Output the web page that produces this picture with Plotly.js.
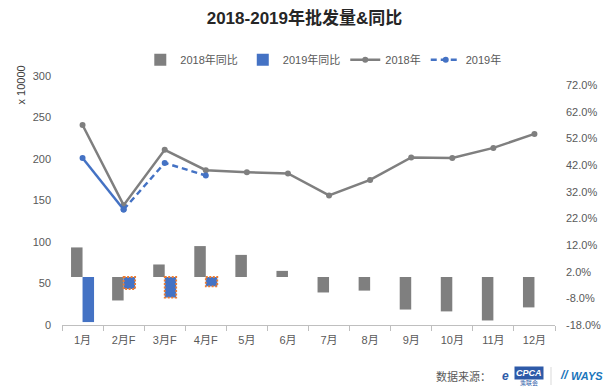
<!DOCTYPE html>
<html>
<head>
<meta charset="utf-8">
<script src="https://cdn.plot.ly/plotly-3.0.1.min.js"></script>
<style>html,body{margin:0;padding:0;background:#fff;}#chart{width:609px;height:391px;}</style>
</head>
<body>
<div id="chart"></div>
<script>
const months = ['1月','2月F','3月F','4月F','5月','6月','7月','8月','9月','10月','11月','12月'];
const sales2018 = [241.0,144.4,211.0,186.5,184.1,182.6,156.1,174.8,201.8,201.3,213.4,230.2];
const sales2019 = [201.3,139.2,195.3,180.1];
const yoy2018 = [11.1,-8.8,4.7,11.6,8.3,2.3,-5.8,-5.1,-12.2,-12.9,-16.3,-11.4];
const yoy2019 = [-16.9,-4.5,-7.7,-3.5];
const rightTicks = [-18,-8,2,12,22,32,42,52,62,72];

const FONT = 'Liberation Sans, Noto Sans CJK SC, sans-serif';
const GRAY = '#7f7f7f';
const BLUE = '#4472C4';
const ORANGE = '#ED7D31';

const x19 = months.slice(0, sales2019.length);
const firstF = months.findIndex(m => m.endsWith('F'));
const solidEnd = Math.max(firstF, 1);

const traces = [
  {type:'bar', name:'2018年同比', x:months, y:yoy2018, yaxis:'y2',
   marker:{color:GRAY, line:{width:0}}, hoverinfo:'none'},
  {type:'bar', name:'2019年同比', x:x19, y:yoy2019, yaxis:'y2',
   marker:{color:BLUE, line:{width:1.5, color:ORANGE}}, hoverinfo:'none'},
  {type:'scatter', mode:'lines+markers', name:'2018年', x:months, y:sales2018, yaxis:'y',
   line:{color:GRAY, width:2.5}, marker:{color:GRAY, size:6}, hoverinfo:'none'},
  {type:'scatter', mode:'lines+markers', name:'2019年', x:x19.slice(0, solidEnd+1), y:sales2019.slice(0, solidEnd+1), yaxis:'y',
   line:{color:BLUE, width:2.5}, marker:{color:BLUE, size:6}, showlegend:false, hoverinfo:'none'},
  {type:'scatter', mode:'lines+markers', name:'2019年', x:x19.slice(solidEnd), y:sales2019.slice(solidEnd), yaxis:'y',
   line:{color:BLUE, width:2.5, dash:'6px,4px'}, marker:{color:BLUE, size:6}, hoverinfo:'none'}
];
// per-point border: forecast points get a dashed orange outline (shape), others none
traces[1].marker.line.color = x19.map(m => m.endsWith('F') ? 'rgba(0,0,0,0)' : BLUE);
traces[1].marker.line.width = 0;

const barW = (1 - 0.44) / 2;
const shapes = [];
x19.forEach((m, i) => {
  if (m.endsWith('F')) {
    shapes.push({type:'rect', xref:'x', yref:'y2', x0:i, x1:i+barW, y0:0, y1:yoy2019[i],
      line:{color:ORANGE, width:1.8, dash:'2px,1.5px'}, fillcolor:'rgba(0,0,0,0)'});
  }
});

const layout = {
  width:609, height:391,
  margin:{l:62, r:54, t:76, b:66},
  paper_bgcolor:'#fff', plot_bgcolor:'#fff',
  font:{family:FONT, size:11, color:'#595959'},
  title:{text:'<b>2018-2019年批发量&同比</b>', font:{family:FONT, size:17, color:'#262626'}, x:0.5, xanchor:'center', y:0.955, yanchor:'middle'},
  showlegend:true,
  legend:{orientation:'h', x:0.53, xanchor:'center', y:1.065, yanchor:'middle', font:{size:11, color:'#595959'}, itemwidth:30, traceorder:'normal', tracegroupgap:0, bgcolor:'rgba(0,0,0,0)'},
  barmode:'group', bargap:0.44, bargroupgap:0,
  xaxis:{type:'category', categoryorder:'array', categoryarray:months, showline:true, linecolor:'#bfbfbf', linewidth:1,
    ticks:'outside', tickson:'boundaries', ticklen:5, tickcolor:'#bfbfbf', showgrid:false, zeroline:false,
    ticklabelstandoff:5, tickfont:{size:11, color:'#595959'}, range:[-0.5, 11.5]},
  yaxis:{range:[0,300], tickvals:[0,50,100,150,200,250,300], showgrid:false, zeroline:false, showline:false,
    ticks:'', ticklabelstandoff:10, tickfont:{size:11, color:'#595959'}},
  yaxis2:{overlaying:'y', side:'right', range:[-18, 75.4], tickvals:rightTicks, ticktext:rightTicks.map(v => v.toFixed(1)+'%'),
    showgrid:false, zeroline:false, showline:false, ticks:'', ticklabelstandoff:10, tickfont:{size:11, color:'#595959'}},
  shapes:shapes,
  annotations:[
    {text:'x 10000', xref:'paper', yref:'paper', x:0, y:1, xshift:-42, yshift:12, xanchor:'center', yanchor:'top', textangle:-90, showarrow:false, font:{size:11, color:'#404040'}},
    {text:'数据来源：', xref:'paper', yref:'paper', x:1, y:0, xshift:-62, yshift:-51, xanchor:'right', yanchor:'middle', showarrow:false, font:{size:11, color:'#595959'}},
    {text:'<b><i>CPCA</i></b>', xref:'paper', yref:'paper', x:1, y:0, xshift:-26, yshift:-48, xanchor:'center', yanchor:'middle', showarrow:false, bgcolor:'#2E5AA8', font:{size:9, color:'#fff'}, borderpad:1},
    {text:'乘联会', xref:'paper', yref:'paper', x:1, y:0, xshift:-26, yshift:-58, xanchor:'center', yanchor:'middle', showarrow:false, font:{size:6, color:'#2E5AA8'}},
    {text:'<b><i>e</i></b>', xref:'paper', yref:'paper', x:1, y:0, xshift:-50, yshift:-51, xanchor:'center', yanchor:'middle', showarrow:false, font:{size:12, color:'#2E5AA8'}},
    {text:'<b><i>//</i></b>', xref:'paper', yref:'paper', x:1, y:0, xshift:9, yshift:-50, xanchor:'center', yanchor:'middle', showarrow:false, font:{size:12, color:'#1B75BB'}},
    {text:'<b><i>WAYS</i></b>', xref:'paper', yref:'paper', x:1, y:0, xshift:32, yshift:-51, xanchor:'center', yanchor:'middle', showarrow:false, font:{size:11, color:'#1B75BB'}}
  ]
};
shapes.push({type:'line', xref:'paper', yref:'paper', x0:1, x1:1, y0:0, y1:0, xsizemode:'pixel', ysizemode:'pixel', xanchor:1, yanchor:0, line:{color:'#d9d9d9', width:1}});
// separator between logos
shapes[shapes.length-1] = {type:'line', xref:'paper', yref:'paper', xsizemode:'pixel', ysizemode:'pixel', xanchor:1, yanchor:0, x0:-4, x1:-4, y0:-42, y1:-60, line:{color:'#d9d9d9', width:1}};

Plotly.newPlot('chart', traces, layout, {staticPlot:true, displayModeBar:false});
</script>
</body>
</html>
